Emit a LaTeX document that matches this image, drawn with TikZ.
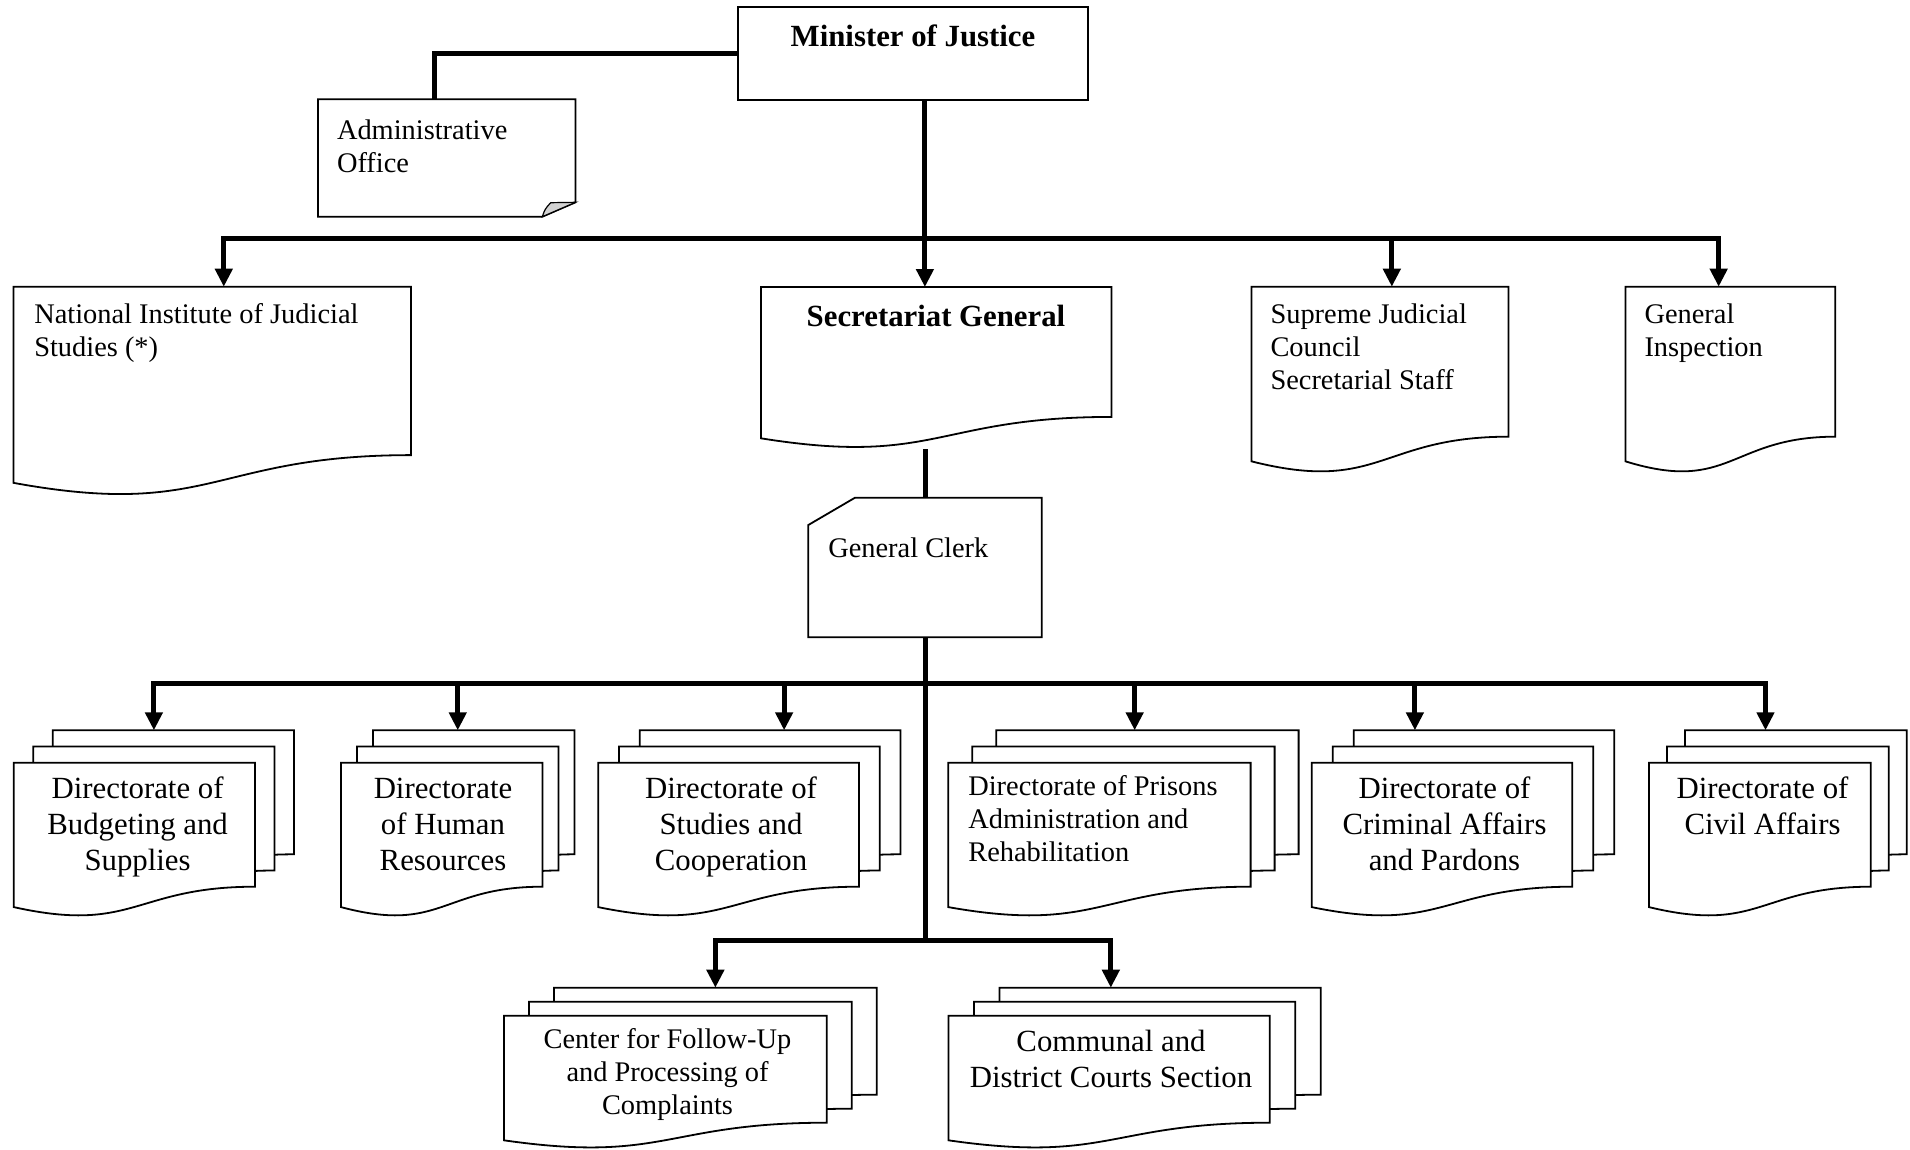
\documentclass[tikz,border=0pt]{standalone}
\usepackage{fontspec}
\setmainfont{Liberation Serif}
\usetikzlibrary{arrows.meta,calc}

% text sizes
\newcommand\smalltxt{\fontsize{28.4}{33}\selectfont}
\newcommand\bigtxt{\fontsize{30.8}{36}\selectfont}
\newcommand\lefttext[1]{\begin{tabular}[t]{@{}l@{}}#1\end{tabular}}
\newcommand\centertext[1]{\begin{tabular}[t]{@{}c@{}}#1\end{tabular}}

% one document sheet with a wavy bottom: left, top, width, height
\newcommand\docsheet[4]{%
  \filldraw[sheet] ({#1},{#2}) -- ({#1+#3},{#2}) -- ({#1+#3},{#2+0.802*#4})
    .. controls ({#1+0.5*#3},{#2+0.802*#4}) and ({#1+0.5*#3},{#2+1.1075*#4}) ..
    ({#1},{#2+0.934*#4}) -- cycle;}

% single document box with a named frame: name, left, top, width, height
\newcommand\docbox[5]{%
  \docsheet{#2}{#3}{#4}{#5}
  \node[area, minimum width={#4}, minimum height={#5}] (#1) at ({#2},{#3}) {};}

% stack of three sheets: name, left, top, width, height, dx, dy
\newcommand\docstack[7]{%
  \docsheet{#2+2*#6}{#3-2*#7}{#4}{#5}
  \docsheet{#2+#6}{#3-#7}{#4}{#5}
  \docsheet{#2}{#3}{#4}{#5}
  \node[area, minimum width={#4+2*#6}, minimum height={#5+2*#7}] (#1) at ({#2},{#3-2*#7}) {};}

\tikzset{
  sheet/.style={draw=black, fill=white, line width=1.8pt, line join=miter},
  area/.style={inner sep=0pt, outer sep=0pt, anchor=north west},
  lbl/.style={inner sep=0pt, outer sep=0pt, text=black},
  conn/.style={draw=black, line width=5pt, line join=miter},
  arr/.style={conn, -{Triangle[width=17pt,length=18pt]}},
}

\begin{document}
\begin{tikzpicture}[x=1pt,y=-1pt]
\useasboundingbox (0,0) rectangle (1910,1149);
\clip (0,0) rectangle (1910,1149);
\fill[white] (0,0) rectangle (1910,1149);

% ---- top level ----
\node[area, minimum width=350, minimum height=93.3, draw=black, line width=1.8pt] (min) at (738,6.7) {};

\node[area, minimum width=257.5, minimum height=117.4] (adm) at (318,99.3) {};
\filldraw[sheet] (318,99.3) -- (575.5,99.3) -- (575.5,202.3) -- (542.3,216.7) -- (318,216.7) -- cycle;
\filldraw[sheet, fill=gray!35, line width=1.2pt] (542.3,216.7) .. controls (545,209) .. (550.7,202.7) -- (575.5,202.3) -- cycle;

% ---- second level ----
\docbox{nat}{13.5}{286.7}{397.5}{210}
\docbox{sec}{761}{287}{350.5}{162}
\docbox{sup}{1251.5}{286.7}{257}{187}
\docbox{ins}{1625.5}{286.7}{209.8}{187}

% ---- general clerk ----
\node[area, minimum width=233.4, minimum height=139.6] (gc) at (808.3,497.7) {};
\filldraw[sheet] (808.3,525) -- (855,497.7) -- (1041.7,497.7) -- (1041.7,637.3) -- (808.3,637.3) -- cycle;

% ---- directorates ----
\docstack{bud}{13.8}{762.7}{241.2}{154.6}{19.5}{16.2}
\docstack{hr}{341}{762.7}{201.5}{154.6}{16}{16.2}
\docstack{stu}{598.2}{762.7}{260.7}{154.6}{20.8}{16.2}
\docstack{pri}{948.3}{762.7}{302.3}{154.6}{24}{16.2}
\docstack{cri}{1311.7}{762.7}{260.6}{154.6}{21}{16.2}
\docstack{civ}{1649}{762.7}{221.7}{154.6}{18}{16.2}

% ---- bottom units ----
\docstack{cen}{504}{1015.7}{322.8}{133.4}{25}{14}
\docstack{com}{948.5}{1015.7}{321.3}{133.4}{25.5}{14}

% ---- connector end points ----
\coordinate (minS) at ($(min.south west)!0.534!(min.south east)$);
\coordinate (admT) at ($(adm.north west)!0.453!(adm.north east)$);
\coordinate (natT) at ($(nat.north west)!0.529!(nat.north east)$);
\coordinate (supT) at ($(sup.north west)!0.546!(sup.north east)$);
\coordinate (insT) at ($(ins.north west)!0.444!(ins.north east)$);
\coordinate (budT) at ($(bud.north west)!0.5!(bud.north east)$);
\coordinate (hrT)  at ($(hr.north west)!0.5!(hr.north east)$);
\coordinate (stuT) at ($(stu.north west)!0.615!(stu.north east)$);
\coordinate (priT) at ($(pri.north west)!0.532!(pri.north east)$);
\coordinate (criT) at ($(cri.north west)!0.341!(cri.north east)$);
\coordinate (civT) at ($(civ.north west)!0.452!(civ.north east)$);
\coordinate (cenT) at ($(cen.north west)!0.567!(cen.north east)$);
\coordinate (comT) at ($(com.north west)!0.436!(com.north east)$);
\coordinate (bus1) at ($(minS)+(0,138.7)$);
\coordinate (bus2) at ($(gc.south)+(0,45.7)$);
\coordinate (bus3) at ($(gc.south)+(0,303.4)$);

% ---- connectors ----
\draw[conn] (min.west) -| (admT);
\draw[arr] (minS) -- (minS |- sec.north);
\draw[arr] (bus1) -| (natT);
\draw[arr] (bus1) -| (insT);
\draw[arr] (bus1 -| supT) -- (supT);
\draw[conn] (gc.north |- sec.south) -- (gc.north);
\draw[conn] (gc.south) -- (bus3);
\draw[arr] (bus2) -| (budT);
\draw[arr] (bus2) -| (civT);
\draw[arr] (bus2 -| hrT) -- (hrT);
\draw[arr] (bus2 -| stuT) -- (stuT);
\draw[arr] (bus2 -| priT) -- (priT);
\draw[arr] (bus2 -| criT) -- (criT);
\draw[arr] (bus3) -| (cenT);
\draw[arr] (bus3) -| (comT);

% ---- labels ----
\node[lbl, anchor=base] (min-txt) at (913,46.5) {\bigtxt\bfseries Minister of Justice};
\node[lbl, anchor=base west] (adm-txt) at (337,139.5) {\smalltxt\lefttext{Administrative\\Office}};
\node[lbl, anchor=base west] (nat-txt) at (34.3,323.5) {\smalltxt\lefttext{National Institute of Judicial\\Studies (*)}};
\node[lbl, anchor=base] (sec-txt) at (936,326.7) {\bigtxt\bfseries Secretariat General};
\node[lbl, anchor=base west] (sup-txt) at (1270.5,323.6) {\smalltxt\lefttext{Supreme Judicial\\Council\\Secretarial Staff}};
\node[lbl, anchor=base west] (ins-txt) at (1644.5,323.6) {\smalltxt\lefttext{General\\Inspection}};
\node[lbl, anchor=base west] (gc-txt) at (828.3,557.3) {\smalltxt General Clerk};

\node[lbl, anchor=base] (bud-txt) at (137.6,798) {\bigtxt\centertext{Directorate of\\Budgeting and\\Supplies}};
\node[lbl, anchor=base] (hr-txt) at (443,798) {\bigtxt\centertext{Directorate\\of Human\\Resources}};
\node[lbl, anchor=base] (stu-txt) at (731,798) {\bigtxt\centertext{Directorate of\\Studies and\\Cooperation}};
\node[lbl, anchor=base west] (pri-txt) at (968.3,795) {\smalltxt\lefttext{Directorate of Prisons\\Administration and\\Rehabilitation}};
\node[lbl, anchor=base] (cri-txt) at (1444.5,798) {\bigtxt\centertext{Directorate of\\Criminal Affairs\\and Pardons}};
\node[lbl, anchor=base] (civ-txt) at (1762.5,798) {\bigtxt\centertext{Directorate of\\Civil Affairs}};
\node[lbl, anchor=base] (cen-txt) at (667.5,1048.4) {\smalltxt\centertext{Center for Follow-Up\\and Processing of\\Complaints}};
\node[lbl, anchor=base] (com-txt) at (1111,1051.6) {\bigtxt\centertext{Communal and\\District Courts Section}};
\end{tikzpicture}
\end{document}
